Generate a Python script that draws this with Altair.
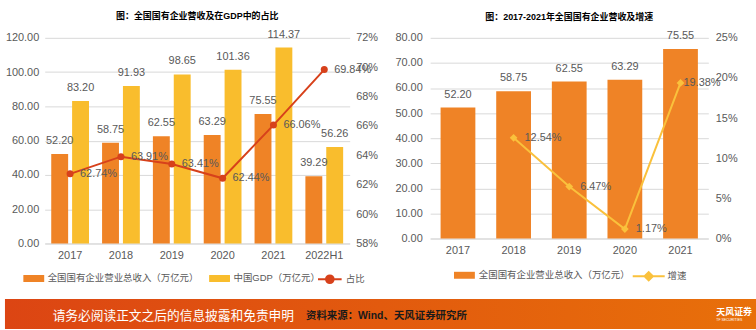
import altair as alt
import pandas as pd

# ---------------- data ----------------
years = ["2017", "2018", "2019", "2020", "2021", "2022H1"]
soe_revenue = [52.20, 58.75, 62.55, 63.29, 75.55, 39.29]
china_gdp = [83.20, 91.93, 98.65, 101.36, 114.37, 56.26]
share_pct = [62.74, 63.91, 63.41, 62.44, 66.06, 69.84]

years_r = ["2017", "2018", "2019", "2020", "2021"]
revenue_r = [52.20, 58.75, 62.55, 63.29, 75.55]
growth_years = ["2018", "2019", "2020", "2021"]
growth_pct = [12.54, 6.47, 1.17, 19.38]

left_ticks = [0, 20, 40, 60, 80, 100, 120]
left_pct_ticks = [0.58, 0.60, 0.62, 0.64, 0.66, 0.68, 0.70, 0.72]
right_ticks = [0, 10, 20, 30, 40, 50, 60, 70, 80]
right_pct_ticks = [0.0, 0.05, 0.10, 0.15, 0.20, 0.25]

S1 = "全国国有企业营业总收入（万亿元）"
S2 = "中国GDP（万亿元）"
L1 = "占比"
L2 = "增速"
TITLE_L = "图：全国国有企业营收及在GDP中的占比"
TITLE_R = "图：2017-2021年全国国有企业营收及增速"
FOOT1 = "请务必阅读正文之后的信息披露和免责申明"
FOOT2 = "资料来源：Wind、天风证券研究所"

# ---------------- styles ----------------
ORANGE = "#EF8326"
YELLOW = "#F9BD2D"
RED = "#D7411B"
GOLD = "#FAC13C"
GRID = "#D9D9D9"
TXT = "#595959"
FONT = "Liberation Sans, Noto Sans CJK SC"
FOOT_SHIFT = -40  # footer group origin sits at the left panel's axis extent

RECT_SYM = "M-1.5,-0.5H1.5V0.5H-1.5Z"
LINE_CIRCLE_SYM = "M-1.7,0H1.7M-0.55,0A0.55,0.55 0 1,0 0.55,0A0.55,0.55 0 1,0 -0.55,0Z"
LINE_DIAMOND_SYM = "M-2.3,0H2.3M0,-0.6L0.6,0L0,0.6L-0.6,0Z"

bars_left = pd.DataFrame({
    "year": years * 2,
    "series": [S1] * len(years) + [S2] * len(years),
    "value": soe_revenue + china_gdp,
})
share_df = pd.DataFrame({"year": years, "share": [v / 100 for v in share_pct], "label": [L1] * len(years)})
bars_right = pd.DataFrame({"year": years_r, "value": revenue_r, "series": [S1] * len(years_r)})
growth_df = pd.DataFrame({"year": growth_years, "growth": [v / 100 for v in growth_pct], "label": [L2] * len(growth_years)})


def legend(x, y, sym, offset, stroke_w=0, fill=None, stroke=None):
    kw = dict(title=None, orient="none", legendX=x, legendY=y, direction="horizontal",
              symbolType=sym, symbolSize=196, symbolStrokeWidth=stroke_w,
              labelFontSize=9.5, labelFont=FONT, labelColor=TXT, labelOffset=offset,
              columnPadding=9, padding=0)
    if fill:
        kw["symbolFillColor"] = fill
    if stroke:
        kw["symbolStrokeColor"] = stroke
    return alt.Legend(**kw)


def x_axis():
    return alt.Axis(title=None, labelAngle=0, labelFontSize=11, labelColor=TXT, labelFont=FONT,
                    labelPadding=6, domainColor=GRID, ticks=False, grid=False)


def y_axis(values, fmt, orient, pad, extent, grid):
    kw = dict(title=None, values=values, format=fmt, orient=orient, labelFontSize=11,
              labelColor=TXT, labelFont=FONT, labelPadding=pad, minExtent=extent,
              maxExtent=extent, domain=False, ticks=False, grid=grid)
    if grid:
        kw["gridColor"] = GRID
    return alt.Axis(**kw)


def title(t):
    return alt.TitleParams(text=t, fontSize=9, fontWeight="bold", font=FONT, color="#000000",
                           offset=8, anchor="middle", frame="group")


# ---------------- left panel ----------------
xs_l = alt.Scale(domain=years, paddingInner=0.257, paddingOuter=0.1285)
xo_l = alt.Scale(domain=[S1, S2], paddingInner=0.19, paddingOuter=0)
ys_l = alt.Scale(domain=[0, 120], nice=False)
ys_l2 = alt.Scale(domain=[0.58, 0.72], nice=False, zero=False)

X_L = alt.X("year:N", scale=xs_l, axis=x_axis())
Y_L = alt.Y("value:Q", scale=ys_l, axis=y_axis(left_ticks, ".2f", "left", 6, 45, True))
Y_L2 = alt.Y("share:Q", scale=ys_l2, axis=y_axis(left_pct_ticks, ".0%", "right", 6, 30, False))
XO_L = alt.XOffset("series:N", scale=xo_l)

bars_l = alt.Chart(bars_left).mark_bar().encode(
    x=X_L, xOffset=XO_L, y=Y_L,
    color=alt.Color("series:N", scale=alt.Scale(domain=[S1, S2], range=[ORANGE, YELLOW]),
                    legend=legend(-18, 235, RECT_SYM, 7)),
)
bar_text_l = alt.Chart(bars_left).mark_text(dy=-13, fontSize=11, font=FONT, color=TXT, baseline="middle").encode(
    x=X_L, xOffset=XO_L, y=Y_L,
    text=alt.Text("value:Q", format=".2f"),
)
line_l = alt.Chart(share_df).mark_line(strokeWidth=2, point=alt.OverlayMarkDef(filled=True, size=50)).encode(
    x=X_L, y=Y_L2,
    color=alt.Color("label:N", scale=alt.Scale(domain=[L1], range=[RED]),
                    legend=legend(279, 235, LINE_CIRCLE_SYM, 8, 2, RED, RED)),
)
line_text_l = alt.Chart(share_df).mark_text(dx=10, align="left", baseline="middle", fontSize=11, font=FONT, color=TXT).encode(
    x=X_L, y=Y_L2,
    text=alt.Text("share:Q", format=".2%"),
)

left = alt.layer(
    alt.layer(bars_l, bar_text_l),
    alt.layer(line_l, line_text_l),
).resolve_scale(y="independent", color="independent").properties(
    width=307, height=207, title=title(TITLE_L)
)

# ---------------- right panel ----------------
xs_r = alt.Scale(domain=years_r, paddingInner=0.375, paddingOuter=0.1875)
ys_r = alt.Scale(domain=[0, 80], nice=False)
ys_r2 = alt.Scale(domain=[0, 0.25], nice=False)

X_R = alt.X("year:N", scale=xs_r, axis=x_axis())
Y_R = alt.Y("value:Q", scale=ys_r, axis=y_axis(right_ticks, ".2f", "left", 8, 45, True))
Y_R2 = alt.Y("growth:Q", scale=ys_r2, axis=y_axis(right_pct_ticks, ".0%", "right", 7, 30, False))

bars_r = alt.Chart(bars_right).mark_bar().encode(
    x=X_R, y=Y_R,
    color=alt.Color("series:N", scale=alt.Scale(domain=[S1], range=[ORANGE]),
                    legend=legend(27.5, 232, RECT_SYM, 7.5)),
)
bar_text_r = alt.Chart(bars_right).mark_text(dy=-13, fontSize=11, font=FONT, color=TXT, baseline="middle").encode(
    x=X_R, y=Y_R,
    text=alt.Text("value:Q", format=".2f"),
)
line_r = alt.Chart(growth_df).mark_line(strokeWidth=2, point=alt.OverlayMarkDef(filled=True, size=60, shape="diamond")).encode(
    x=X_R, y=Y_R2,
    color=alt.Color("label:N", scale=alt.Scale(domain=[L2], range=[GOLD]),
                    legend=legend(212, 232, LINE_DIAMOND_SYM, 11, 2, GOLD, GOLD)),
)
line_text_r = alt.Chart(growth_df).mark_text(dx=11, align="left", baseline="middle", fontSize=11, font=FONT, color=TXT).transform_filter(
    "datum.year != '2021'"
).encode(
    x=X_R, y=Y_R2,
    text=alt.Text("growth:Q", format=".2%"),
)
line_text_r2 = alt.Chart(growth_df).mark_text(dx=3, align="left", baseline="middle", fontSize=11, font=FONT, color=TXT).transform_filter(
    "datum.year == '2021'"
).encode(
    x=X_R, y=Y_R2,
    text=alt.Text("growth:Q", format=".2%"),
)

right = alt.layer(
    alt.layer(bars_r, bar_text_r),
    alt.layer(line_r, line_text_r, line_text_r2),
).resolve_scale(y="independent", color="independent").properties(
    width=280, height=202, title=title(TITLE_R)
)

top = alt.hconcat(left, right, spacing=6).resolve_scale(color="independent")

# ---------------- footer ----------------
foot_df = pd.DataFrame({"k": [0]})
grad = alt.Gradient(gradient="linear", x1=0, x2=1, y1=0, y2=0,
                    stops=[alt.GradientStop(color="#DC4513", offset=0),
                           alt.GradientStop(color="#E25A0E", offset=0.5),
                           alt.GradientStop(color="#E8700A", offset=1)])
S = FOOT_SHIFT
footer_bg = alt.Chart(foot_df).mark_rect(fill=grad).encode(
    x=alt.value(0 + S), x2=alt.value(756 + S), y=alt.value(0), y2=alt.value(30))
footer_t1 = alt.Chart(foot_df).mark_text(align="left", baseline="middle", fontSize=12.8, font=FONT, color="#FFFFFF").encode(
    x=alt.value(48 + S), y=alt.value(17), text=alt.value(FOOT1))
footer_t2 = alt.Chart(foot_df).mark_text(align="left", baseline="middle", fontSize=10.5, fontWeight="bold", font=FONT, color="#1A1A1A").encode(
    x=alt.value(303 + S), y=alt.value(17), text=alt.value(FOOT2))
footer_t3 = alt.Chart(foot_df).mark_text(align="left", baseline="middle", fontSize=9, fontWeight="bold", font=FONT, color="#FFFFFF").encode(
    x=alt.value(716 + S), y=alt.value(13), text=alt.value("天风证券"))
footer_t4 = alt.Chart(foot_df).mark_text(align="left", baseline="middle", fontSize=3.5, font=FONT, color="#FFFFFF").encode(
    x=alt.value(716 + S), y=alt.value(21), text=alt.value("TF SECURITIES"))

footer = alt.layer(footer_bg, footer_t1, footer_t2, footer_t3, footer_t4).properties(width=756 + S, height=30)

chart = alt.vconcat(top, footer, spacing=12).properties(
    padding={"left": 0, "top": 10, "right": 0, "bottom": 0}
).configure_view(stroke=None)

chart.save("out.html", embed_options={"renderer": "svg", "actions": False})
